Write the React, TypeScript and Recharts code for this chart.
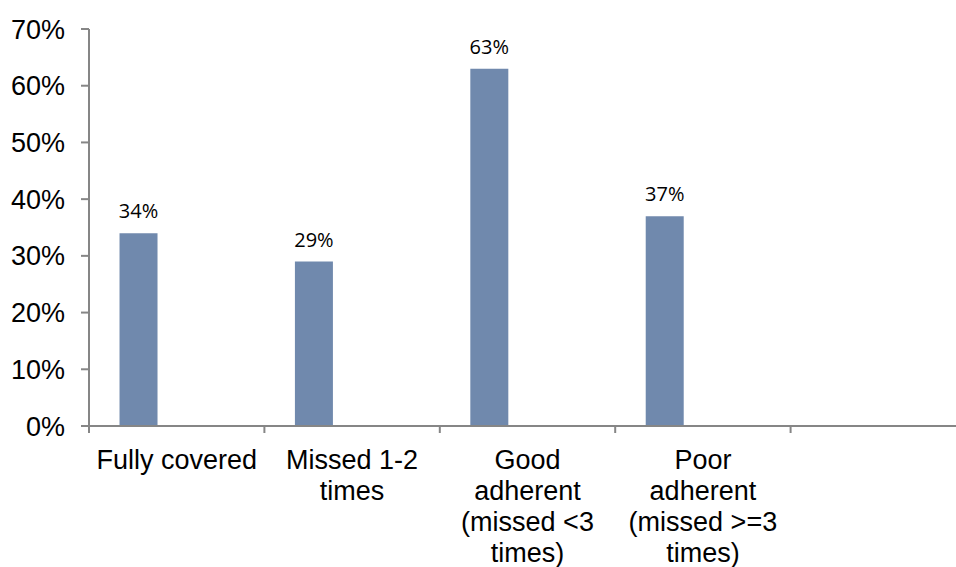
import { BarChart, Bar, XAxis, YAxis, LabelList } from 'recharts';

// categories (5th slot is empty in the original chart)
const categories = [
  'Fully covered',
  'Missed 1-2\ntimes',
  'Good\nadherent\n(missed <3\ntimes)',
  'Poor\nadherent\n(missed >=3\ntimes)',
  '',
];
const shares = [34, 29, 63, 37, null];
const yTicks = [0, 10, 20, 30, 40, 50, 60, 70];

const data = categories.map((name, i) => ({
  name,
  share: shares[i],
  blankA: null,
  blankB: null,
}));

const CHART_W = 970;
const CHART_H = 567;
const MARGIN = { top: 29, right: 4, left: 0, bottom: 0 };
const Y_AXIS_W = 89;
const PLOT_W = CHART_W - MARGIN.left - MARGIN.right - Y_AXIS_W;
const BAND = PLOT_W / categories.length;

const AXIS_COLOR = '#868686';
const BAR_COLOR = '#7089AD';
const FONT = '"Liberation Sans", Arial, sans-serif';

const X_TICK_SIZE = 7;
const X_TICK_MARGIN = 17;

const CategoryTick = (props: any) => {
  const { x, y, payload } = props;
  const axisY = y - X_TICK_SIZE - X_TICK_MARGIN;
  const lines = String(payload.value).split('\n');
  const left = x - BAND / 2;
  return (
    <g>
      <line x1={left} x2={left} y1={axisY} y2={axisY + X_TICK_SIZE} stroke={AXIS_COLOR} strokeWidth={2} />
      <text x={x} y={y} textAnchor="middle" fill="#000" fontSize={27} fontFamily={FONT}>
        {lines.map((l, i) => (
          <tspan key={i} x={x} dy={i === 0 ? '0.71em' : 31}>
            {l}
          </tspan>
        ))}
      </text>
    </g>
  );
};

export default function App() {
  return (
    <div style={{ position: 'absolute', left: 0, top: 0, width: 956, height: 567, overflow: 'hidden', background: '#fff' }}>
      <BarChart
        width={CHART_W}
        height={CHART_H}
        data={data}
        margin={MARGIN}
        barCategoryGap="17.4%"
        barGap={0}
      >
        <XAxis
          dataKey="name"
          height={141}
          interval={0}
          tickLine={false}
          tickSize={X_TICK_SIZE}
          tickMargin={X_TICK_MARGIN}
          axisLine={{ stroke: AXIS_COLOR, strokeWidth: 2 }}
          tick={<CategoryTick />}
        />
        <YAxis
          width={Y_AXIS_W}
          domain={[0, 70]}
          ticks={yTicks}
          interval={0}
          tickFormatter={(v) => `${v}%`}
          tickSize={8}
          tickMargin={16}
          axisLine={{ stroke: AXIS_COLOR, strokeWidth: 2 }}
          tickLine={{ stroke: AXIS_COLOR, strokeWidth: 2 }}
          tick={{ fill: '#000', fontSize: 27, fontFamily: FONT }}
        />
        <Bar dataKey="share" fill={BAR_COLOR} isAnimationActive={false}>
          <LabelList
            dataKey="share"
            position="top"
            offset={15}
            formatter={(v: any) => (v == null ? '' : `${v}%`)}
            style={{ fill: '#000', fontSize: 20, fontFamily: '"Open Sans", sans-serif' }}
          />
        </Bar>
        <Bar dataKey="blankA" fill={BAR_COLOR} isAnimationActive={false} />
        <Bar dataKey="blankB" fill={BAR_COLOR} isAnimationActive={false} />
      </BarChart>
    </div>
  );
}
